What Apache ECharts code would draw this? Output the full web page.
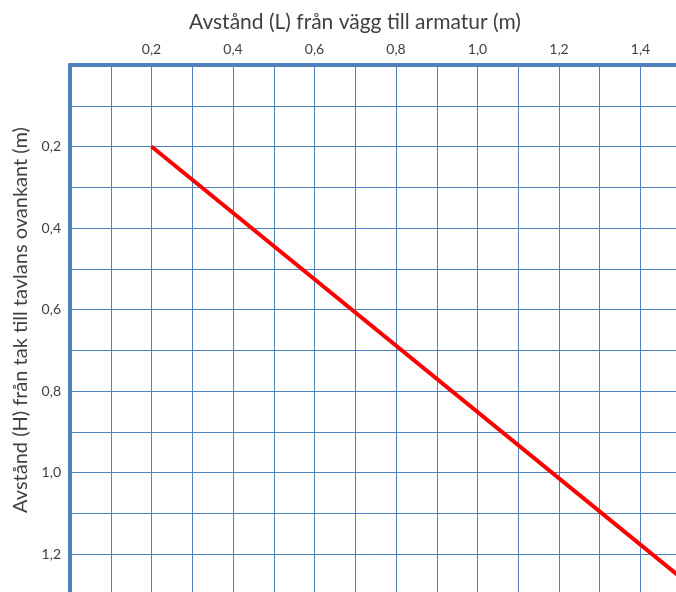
<!DOCTYPE html>
<html>
<head>
<meta charset="utf-8">
<script src="https://cdn.jsdelivr.net/npm/echarts@6/dist/echarts.min.js"></script>
<style>
  html, body { margin: 0; padding: 0; background: #fff; }
  #main { width: 676px; height: 592px; }
</style>
</head>
<body>
<div id="main"></div>
<script>
// avstånd från vägg (L) och från tak (H), meter
let wallDist = [0.2, 1.6]
let ceilDist = [0.2, 1.34]
let xTitle = 'Avstånd (L) från vägg till armatur (m)'
let yTitle = 'Avstånd (H) från tak till tavlans ovankant (m)'

let blue = '#4f81bd'
let fmt = v => v === 0 ? '' : v.toFixed(1).replace('.', ',')

var myChart = echarts.init(document.getElementById('main'))

let option = {
    animation: false,
    textStyle: { fontFamily: 'Lato' },
    grid: { left: 70, top: 65, right: -46, bottom: -43.5, outerBoundsMode: 'none' },
    graphic: [
        {
            type: 'text', x: 355, y: 22,
            style: {
                text: xTitle, fontSize: 21, fill: '#404040', fontFamily: 'Lato',
                align: 'center', verticalAlign: 'middle'
            }
        },
        {
            type: 'text', x: 21, y: 320, rotation: Math.PI / 2,
            style: {
                text: yTitle, fontSize: 20, fill: '#404040', fontFamily: 'Lato',
                align: 'center', verticalAlign: 'middle'
            }
        }
    ],
    xAxis: {
        type: 'value', position: 'top', min: 0, max: 1.6, interval: 0.2,
        axisLine: { show: true, lineStyle: { color: blue, width: 4 } },
        axisTick: { show: false },
        axisLabel: { formatter: fmt, color: '#404040', fontSize: 14, margin: 9 },
        splitLine: { show: true, lineStyle: { color: blue, width: 1 } },
        minorTick: { show: false, splitNumber: 2 },
        minorSplitLine: { show: true, lineStyle: { color: blue, width: 1 } }
    },
    yAxis: {
        type: 'value', inverse: true, min: 0, max: 1.4, interval: 0.2,
        axisLine: { show: true, lineStyle: { color: blue, width: 4 } },
        axisTick: { show: false },
        axisLabel: { formatter: fmt, color: '#404040', fontSize: 14, margin: 9 },
        splitLine: { show: true, lineStyle: { color: blue, width: 1 } },
        minorTick: { show: false, splitNumber: 2 },
        minorSplitLine: { show: true, lineStyle: { color: blue, width: 1 } }
    },
    series: [
        {
            type: 'line',
            data: wallDist.map((x, i) => [x, ceilDist[i]]),
            symbol: 'none',
            lineStyle: { color: '#ff0000', width: 4 }
        }
    ]
}

myChart.setOption(option)
</script>
</body>
</html>
